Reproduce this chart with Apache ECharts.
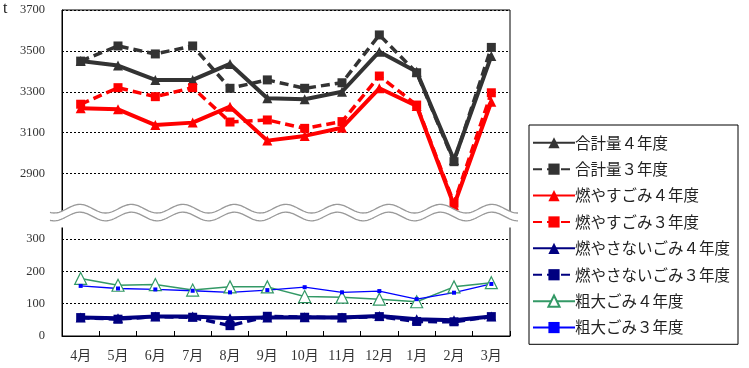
<!DOCTYPE html>
<html><head><meta charset="utf-8">
<script src="https://cdn.jsdelivr.net/npm/echarts@6/dist/echarts.min.js"></script>
<style>html,body{margin:0;padding:0;background:#fff}#c{width:749px;height:368px}</style>
</head><body><div id="c"></div>
<script>
var months = ['4月','5月','6月','7月','8月','9月','10月','11月','12月','1月','2月','3月'];
var total4   = [3450,3428,3358,3358,3436,3268,3263,3300,3496,3398,2966,3475];
var total3   = [3450,3524,3485,3524,3317,3358,3317,3344,3578,3393,2958,3517];
var burn4    = [3219,3214,3137,3149,3227,3061,3084,3124,3317,3230,2745,3251];
var burn3    = [3239,3320,3276,3320,3152,3162,3121,3154,3377,3235,2755,3295];
var nonburn4 = [57,55,60,60,55,57,58,57,62,52,49,60];
var nonburn3 = [57,52,60,58,32,61,58,57,60,45,44,60];
var bulky4   = [178,157,159,142,152,152,122,120,114,106,152,165];
var bulky3   = [155,147,144,140,135,142,151,135,139,114,134,161];
var topTicks = [2900,3100,3300,3500,3700];
var botTicks = [0,100,200,300];

var names = ['合計量４年度','合計量３年度','燃やすごみ４年度','燃やすごみ３年度','燃やさないごみ４年度','燃やさないごみ３年度','粗大ごみ４年度','粗大ごみ３年度'];
var numFont = "'Liberation Serif','Noto Sans CJK JP',serif";
var dashT = [9,5];

// wavy break decoration
function wave(y0, amp, x0, x1){
  var pts=[]; for(var x=x0;x<=x1;x+=1){ pts.push([x, y0 - amp*Math.sin((x-67)/51.5*2*Math.PI)]); } return pts;
}
var up = wave(208.7, 4.3, 50, 518);
var lo = wave(216.5, 4.3, 50, 518);
var poly = up.concat([[518,227.6],[50,227.6]]);

var chart = echarts.init(document.getElementById('c'));
function axisY(gi, min, max, ticks){
  return {
    type:'value', gridIndex:gi, min:min, max:max, interval:100*(gi===0?2:1),
    axisLine:{show:true, lineStyle:{color:'#000',width:1}},
    axisTick:{show:false},
    axisLabel:{margin:17, color:'#333', fontSize:12.5, fontFamily:numFont,
      formatter:function(v){return ticks.indexOf(v)>=0? String(v):'';}},
    splitLine:{show:true, lineStyle:{color:'#000', width:1, type:[2,2]}}
  };
}
function ser(name, data, gi, color, opts){
  var s = {name:name, type:'line', data:data, xAxisIndex:gi, yAxisIndex:gi,
    color: color, symbol: opts.symbol, symbolSize: opts.size, showSymbol:true,
    lineStyle:{color:color, width:opts.width, type:opts.type||'solid'},
    itemStyle:opts.itemStyle||{color:color}, animation:false, z:opts.z||2};
  return s;
}
var option = {
  animation:false,
  grid:[
    {left:62, right:239, top:10, height:204.4, show:true, borderColor:'#000', borderWidth:1},
    {left:62, right:239, top:226.1, height:109.9, show:true, borderColor:'#000', borderWidth:1}
  ],
  xAxis:[
    {type:'category', gridIndex:0, data:months, axisLine:{show:false}, axisTick:{show:false}, axisLabel:{show:false}},
    {type:'category', gridIndex:1, data:months,
     axisLine:{show:true, lineStyle:{color:'#000',width:1}},
     axisTick:{show:true, inside:true, length:5, lineStyle:{color:'#000'}},
     axisLabel:{margin:13, color:'#333', fontSize:14, fontFamily:numFont}}
  ],
  yAxis:[ axisY(0, 2700, 3700, topTicks), axisY(1, 0, 340, botTicks) ],
  legend:{
    orient:'vertical', left:529, top:125, data:names,
    backgroundColor:'#fff', borderColor:'#000', borderWidth:1,
    padding:[10,8,9,3], itemGap:10.9, itemWidth:42, itemHeight:14,
    textStyle:{fontSize:15.5, lineHeight:14, color:'#222', fontFamily:"'Noto Sans CJK JP',sans-serif", padding:[0,0,0,-5]}
  },
  series:[
    ser(names[0], total4, 0, '#333333', {symbol:'triangle', size:10, width:4}),
    ser(names[1], total3, 0, '#333333', {symbol:'rect', size:9, width:3.5, type:dashT}),
    ser(names[2], burn4, 0, '#ff0000', {symbol:'triangle', size:10, width:4}),
    ser(names[3], burn3, 0, '#ff0000', {symbol:'rect', size:9, width:3.5, type:dashT}),
    ser(names[4], nonburn4, 1, '#000080', {symbol:'triangle', size:10, width:4}),
    ser(names[5], nonburn3, 1, '#000080', {symbol:'rect', size:9, width:3.5, type:dashT}),
    ser(names[6], bulky4, 1, '#339966', {symbol:'triangle', size:12, width:1.5, itemStyle:{color:'#fff', borderColor:'#339966', borderWidth:1.2}}),
    ser(names[7], bulky3, 1, '#0000ff', {symbol:'rect', size:4, width:1.3})
  ],
  graphic:[
    {type:'polygon', shape:{points:poly}, style:{fill:'#fff', stroke:null}, z:100},
    {type:'polyline', shape:{points:up}, style:{stroke:'#999', lineWidth:1.3, fill:null}, z:101},
    {type:'polyline', shape:{points:lo}, style:{stroke:'#999', lineWidth:1.3, fill:null}, z:101},
    {type:'text', left:3, top:1, style:{text:'t', fontSize:16, fontFamily:numFont, fill:'#222'}, z:101}
  ]
};
chart.setOption(option);
</script></body></html>
